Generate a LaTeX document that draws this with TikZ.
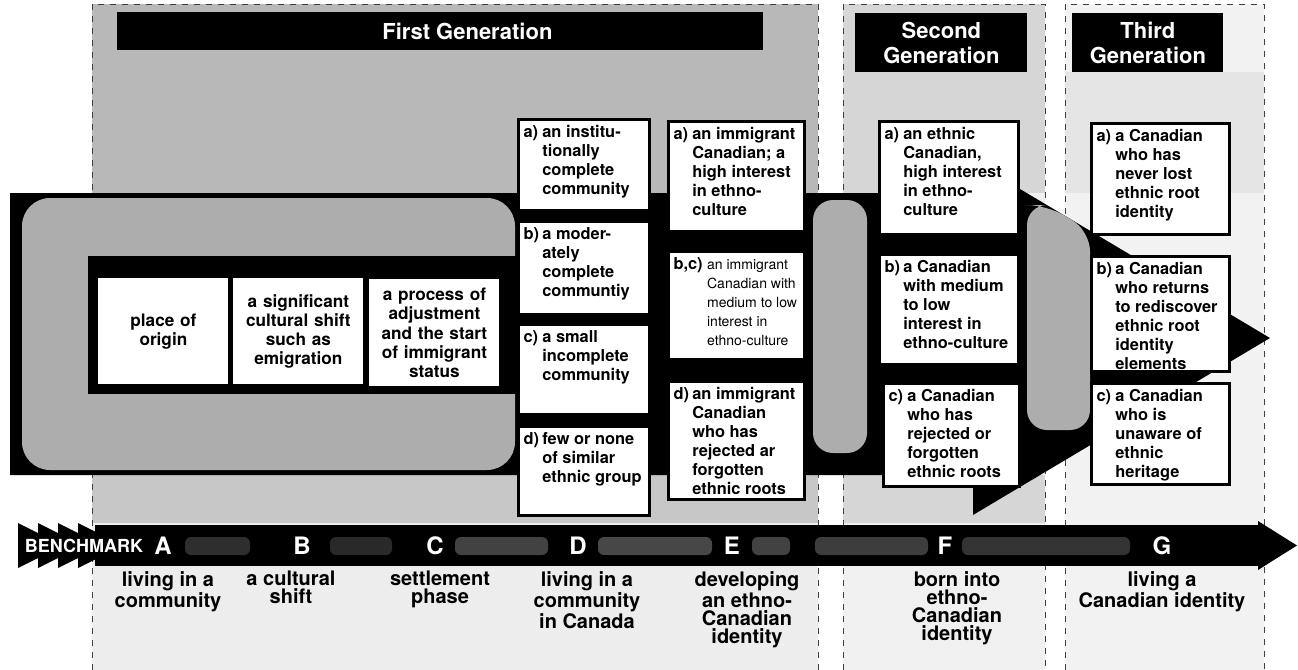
\documentclass[tikz,border=0pt]{standalone}
\usepackage{fontspec}
\setmainfont{TeX Gyre Heros}

% label + lines with hanging indent
\newcommand{\opt}[3][1.15em]{\makebox[#1][l]{#2}\begin{tabular}[t]{@{}l@{}}#3\end{tabular}}
% top aligned cell, width and height in px
\newcommand{\optcell}[3]{\parbox[t][\dimexpr#2pt/2-5pt\relax][t]{\dimexpr#1pt/2-5pt\relax}{#3}}

\tikzset{
  paneledge/.style={draw=black!75, dashed, line width=0.5pt},
  genbar/.style={fill=black, text=white, inner sep=0pt, align=center,
    font=\fontsize{11}{12.5}\selectfont\bfseries, anchor=north west},
  speck/.style={fill=black!32, rounded corners=10pt},
  stepcell/.style={fill=white, inner sep=0pt, align=center, anchor=north west,
    text width=60pt, minimum width=65pt, minimum height=53pt,
    font=\fontsize{8.6}{9.6}\selectfont\bfseries},
  optbox/.style={draw=black, line width=1.5pt, fill=white, anchor=north west,
    inner sep=2.5pt, font=\fontsize{8.2}{9.5}\selectfont\bfseries},
  benchletter/.style={text=white, inner sep=0pt, font=\fontsize{12}{12}\selectfont\bfseries},
  stagetext/.style={anchor=north, align=center, inner sep=0pt,
    font=\fontsize{10}{9}\selectfont\bfseries}
}

\begin{document}
\begin{tikzpicture}[x=0.5pt,y=-0.5pt]
\useasboundingbox (0,0) rectangle (1298,670);

% generation panels
\fill[black!7] (92,4) rectangle (818,670);
\fill[black!28] (92,4) rectangle (818,193);
\fill[black!22] (92,475) rectangle (818,523);
\fill[black!6] (843,4) rectangle (1045,670);
\fill[black!16] (843,4) rectangle (1045,193);
\fill[black!16] (843,475) rectangle (1045,523);
\fill[black!5] (1065,4) rectangle (1264,670);
\fill[black!10] (1065,72) rectangle (1264,193);
\foreach \l/\r in {92/818,843/1045,1065/1264}
  \draw[paneledge] (\l,670) -- (\l,4) -- (\r,4) -- (\r,670);

\node[genbar, minimum width=323pt, minimum height=19pt] (gen1) at (117,12) {\hspace*{27pt}First Generation};
\node[genbar, minimum width=86pt, minimum height=29.5pt] (gen2) at (855,13) {Second\\Generation};
\node[genbar, minimum width=75.5pt, minimum height=29.5pt] (gen3) at (1072,13) {Third\\Generation};

% the big arrow
\fill (10,193) -- (973,193) -- (973,161) -- (1270,338) -- (973,515) -- (973,475) -- (10,475) -- cycle;
\fill[speck, rounded corners=14pt] (22,198) rectangle (515,470);
\fill (88,256) rectangle (517,394);
\fill[speck] (813,200) rectangle (867,453);
\fill[speck] (1027,205) -- (1047,205) -- (1090,231) -- (1090,430) -- (1027,430) -- cycle;

% benchmarks A to C
\node[stepcell] (sA) at (98,278) {place of\\origin};
\node[stepcell] (sB) at (233,278) {a significant\\cultural shift\\such as\\emigration};
\node[stepcell, minimum height=53.5pt] (sC) at (369,279) {a process of\\adjustment\\and the start\\of immigrant\\status};

% D: living in a community in Canada
\node[optbox] (d1) at (517,118) {\optcell{131}{91}{\opt{a)}{an institu-\\tionally\\complete\\community}}};
\node[optbox] (d2) at (517,220) {\optcell{131}{93}{\opt{b)}{a moder-\\ately\\complete\\communtiy}}};
\node[optbox] (d3) at (517,323) {\optcell{131}{90}{\opt{c)}{a small\\incomplete\\community}}};
\node[optbox] (d4) at (517,425) {\optcell{131}{89}{\opt{d)}{few or none\\of similar\\ethnic group}}};

% E: developing an ethno-Canadian identity
\node[optbox] (e1) at (667,120) {\optcell{136}{110}{\opt{a)}{an immigrant\\Canadian; a\\high interest\\in ethno-\\culture}}};
\node[optbox] (e2) at (667,250) {\optcell{136}{108}{\makebox[2.05em][l]{b,c)}{\fontsize{7}{9.5}\selectfont\mdseries
  \begin{tabular}[t]{@{}l@{}}an immigrant\\Canadian with\\medium to low\\interest in\\ethno-culture\end{tabular}}}};
\node[optbox] (e3) at (667,380) {\optcell{136}{118}{\opt{d)}{an immigrant\\Canadian\\who has\\rejected ar\\forgotten\\ethnic roots}}};

% F: born into ethno-Canadian identity
\node[optbox] (f1) at (878,120) {\optcell{139}{113}{\opt{a)}{an ethnic\\Canadian,\\high interest\\in ethno-\\culture}}};
\node[optbox] (f2) at (878,253) {\optcell{139}{110}{\opt{b)}{a Canadian\\with medium\\to low\\interest in\\ethno-culture}}};
\node[optbox] (f3) at (882,382) {\optcell{136}{103}{\opt{c)}{a Canadian\\who has\\rejected or\\forgotten\\ethnic roots}}};

% G: living a Canadian identity
\node[optbox] (g1) at (1090,122) {\optcell{138}{111}{\opt{a)}{a Canadian\\who has\\never lost\\ethnic root\\identity}}};
\node[optbox] (g2) at (1090,255) {\optcell{138}{115}{\opt{b)}{a Canadian\\who returns\\to rediscover\\ethnic root\\identity\\elements}}};
\node[optbox] (g3) at (1090,382) {\optcell{138}{101}{\opt{c)}{a Canadian\\who is\\unaware of\\ethnic\\heritage}}};

% benchmark line
\foreach \x in {18,38,58,78}
  \fill (\x,523) -- (\x+45,545.5) -- (\x,568) -- cycle;
\fill (95,525) rectangle (1260,566);
\fill (1258,521) -- (1297,545.5) -- (1258,570) -- cycle;
\foreach \a/\b/\g in {185/250/82,330/392/84,455/548/74,598/712/72,752/790/74,815/928/76,962/1130/80}
  \fill[black!\g, rounded corners=3pt] (\a,537) rectangle (\b,555);
\node[benchletter, font=\fontsize{9}{9}\selectfont\bfseries] (bench) at (84,546) {BENCHMARK};
\node[benchletter] (lA) at (163,546) {A};
\node[benchletter] (lB) at (302,546) {B};
\node[benchletter] (lC) at (435,546) {C};
\node[benchletter] (lD) at (578,546) {D};
\node[benchletter] (lE) at (732,546) {E};
\node[benchletter] (lF) at (945,546) {F};
\node[benchletter] (lG) at (1162,546) {G};

\node[stagetext] (tA) at (168,571) {living in a\\community};
\node[stagetext] (tB) at (291,571) {a cultural\\shift};
\node[stagetext] (tC) at (440,571) {settlement\\phase};
\node[stagetext] (tD) at (587,571) {living in a\\community\\in Canada};
\node[stagetext] (tE) at (747,571) {developing\\an ethno-\\Canadian\\identity};
\node[stagetext] (tF) at (957,571) {born into\\ethno-\\Canadian\\identity};
\node[stagetext] (tG) at (1162,571) {living a\\Canadian identity};
\end{tikzpicture}
\end{document}
